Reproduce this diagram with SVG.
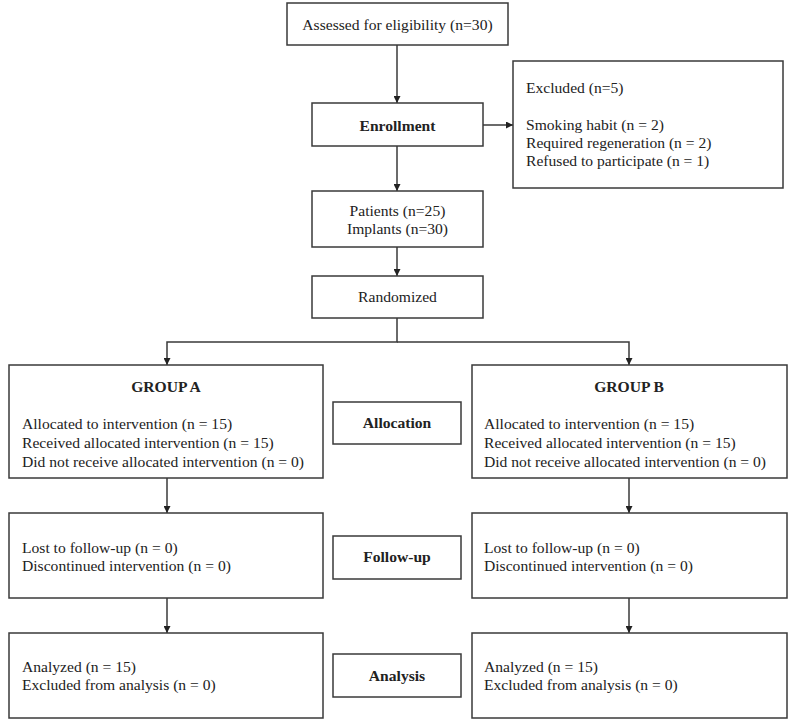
<svg xmlns="http://www.w3.org/2000/svg" width="790" height="721" viewBox="0 0 790 721">
<style>
.box{fill:#fff;stroke:#3a3a3a;stroke-width:1.5}
text{font-family:"Liberation Serif","Times New Roman",serif;font-size:15.6px;fill:#222}
.c{text-anchor:middle}
.b{font-weight:bold}
.ln{fill:none;stroke:#3a3a3a;stroke-width:1.5}
</style>
<defs>
<marker id="ah" viewBox="0 0 8 8" refX="8" refY="4" markerWidth="7" markerHeight="7" markerUnits="userSpaceOnUse" orient="auto">
<path d="M0,0 L8,4 L0,8 z" fill="#222"/>
</marker>
</defs>
<rect width="790" height="721" fill="#fff"/>
<g id="connectors">
<line class="ln" x1="397" y1="45" x2="397" y2="103" marker-end="url(#ah)"/>
<line class="ln" x1="483" y1="125" x2="513" y2="125" marker-end="url(#ah)"/>
<line class="ln" x1="397" y1="146" x2="397" y2="191" marker-end="url(#ah)"/>
<line class="ln" x1="397" y1="247" x2="397" y2="276" marker-end="url(#ah)"/>
<polyline class="ln" points="397,318 397,342 167,342 167,365" marker-end="url(#ah)"/>
<polyline class="ln" points="397,342 629,342 629,365" marker-end="url(#ah)"/>
<line class="ln" x1="167" y1="478" x2="167" y2="513" marker-end="url(#ah)"/>
<line class="ln" x1="629" y1="478" x2="629" y2="513" marker-end="url(#ah)"/>
<line class="ln" x1="167" y1="598" x2="167" y2="633" marker-end="url(#ah)"/>
<line class="ln" x1="629" y1="598" x2="629" y2="633" marker-end="url(#ah)"/>
</g>
<g id="assessed">
<rect class="box" x="287" y="3" width="221" height="42"/>
<text class="c" x="397.5" y="30">Assessed for eligibility (n=30)</text>
</g>
<g id="enrollment">
<rect class="box" x="312" y="103" width="171" height="43"/>
<text class="c b" x="397.5" y="131">Enrollment</text>
</g>
<g id="excluded">
<rect class="box" x="513" y="61" width="270" height="127"/>
<text x="526" y="93">Excluded (n=5)</text>
<text x="526" y="130">Smoking habit (n = 2)</text>
<text x="526" y="148">Required regeneration (n = 2)</text>
<text x="526" y="166">Refused to participate (n = 1)</text>
</g>
<g id="patients">
<rect class="box" x="312" y="191" width="171" height="56"/>
<text class="c" x="397.5" y="216">Patients (n=25)</text>
<text class="c" x="397.5" y="234">Implants (n=30)</text>
</g>
<g id="randomized">
<rect class="box" x="312" y="276" width="171" height="42"/>
<text class="c" x="397.5" y="302">Randomized</text>
</g>
<g id="groupA">
<rect class="box" x="9" y="365" width="314" height="113"/>
<text class="c b" x="166" y="392">GROUP A</text>
<text x="22" y="429">Allocated to intervention (n = 15)</text>
<text x="22" y="448">Received allocated intervention (n = 15)</text>
<text x="22" y="467">Did not receive allocated intervention (n = 0)</text>
</g>
<g id="allocation">
<rect class="box" x="333" y="402" width="128" height="42"/>
<text class="c b" x="397" y="428">Allocation</text>
</g>
<g id="groupB">
<rect class="box" x="472" y="365" width="315" height="113"/>
<text class="c b" x="629" y="392">GROUP B</text>
<text x="484" y="429">Allocated to intervention (n = 15)</text>
<text x="484" y="448">Received allocated intervention (n = 15)</text>
<text x="484" y="467">Did not receive allocated intervention (n = 0)</text>
</g>
<g id="followA">
<rect class="box" x="9" y="513" width="314" height="85"/>
<text x="22" y="553">Lost to follow-up (n = 0)</text>
<text x="22" y="571">Discontinued intervention (n = 0)</text>
</g>
<g id="followup">
<rect class="box" x="333" y="536" width="128" height="43"/>
<text class="c b" x="397" y="562">Follow-up</text>
</g>
<g id="followB">
<rect class="box" x="472" y="513" width="315" height="85"/>
<text x="484" y="553">Lost to follow-up (n = 0)</text>
<text x="484" y="571">Discontinued intervention (n = 0)</text>
</g>
<g id="analysisA">
<rect class="box" x="9" y="633" width="314" height="85"/>
<text x="22" y="672">Analyzed (n = 15)</text>
<text x="22" y="690">Excluded from analysis (n = 0)</text>
</g>
<g id="analysis">
<rect class="box" x="333" y="654" width="128" height="43"/>
<text class="c b" x="397" y="681">Analysis</text>
</g>
<g id="analysisB">
<rect class="box" x="472" y="633" width="315" height="85"/>
<text x="484" y="672">Analyzed (n = 15)</text>
<text x="484" y="690">Excluded from analysis (n = 0)</text>
</g>
</svg>
